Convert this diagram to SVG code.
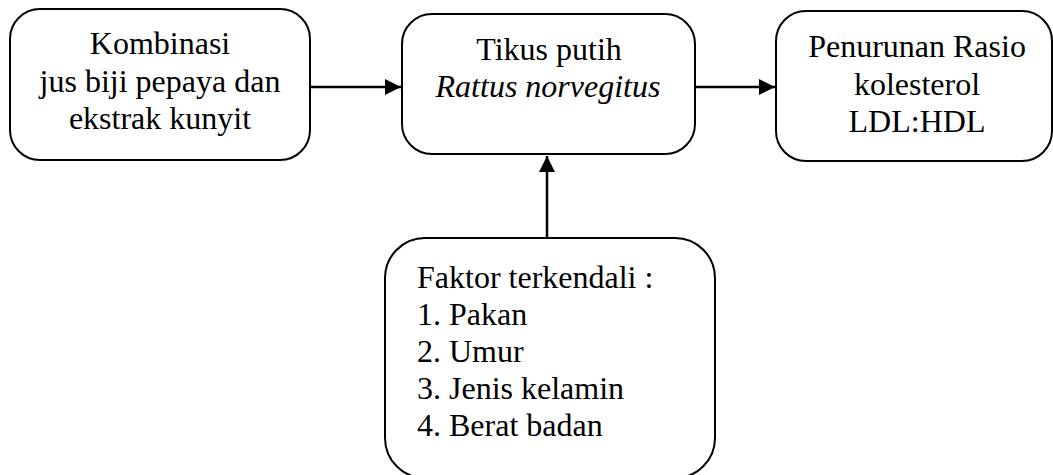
<svg xmlns="http://www.w3.org/2000/svg" width="1053" height="475" viewBox="0 0 1053 475">
<style>
.box{fill:#fff;stroke:#000;stroke-width:2}
.t{font-family:"Liberation Serif","Times New Roman",serif;font-size:32px;fill:#000}
.c{text-anchor:middle}
.conn{stroke:#000;stroke-width:2.5;fill:none}
</style>
<defs>
<marker id="ah" viewBox="0 0 10 10" refX="10" refY="5" markerWidth="6.4" markerHeight="6.4" orient="auto" markerUnits="strokeWidth">
<path d="M0,0 L10,5 L0,10 Z" fill="#000"/>
</marker>
</defs>
<rect width="1053" height="475" fill="#fff"/>
<g id="connectors">
<line class="conn" x1="310" y1="87" x2="401" y2="87" marker-end="url(#ah)"/>
<line class="conn" x1="695" y1="87" x2="775" y2="87" marker-end="url(#ah)"/>
<line class="conn" x1="547" y1="238" x2="547" y2="156" marker-end="url(#ah)"/>
</g>
<g id="node-kombinasi">
<rect class="box" x="10" y="9" width="300" height="151" rx="30" ry="30"/>
<text class="t c" x="160" y="54">Kombinasi</text>
<text class="t c" x="160" y="92">jus biji pepaya dan</text>
<text class="t c" x="160" y="129">ekstrak kunyit</text>
</g>
<g id="node-tikus">
<rect class="box" x="402" y="14" width="293" height="140" rx="30" ry="30"/>
<text class="t c" x="549" y="60">Tikus putih</text>
<text class="t c" x="548" y="97" font-style="italic">Rattus norvegitus</text>
</g>
<g id="node-penurunan">
<rect class="box" x="776" y="11" width="276" height="150" rx="30" ry="30"/>
<text class="t c" x="917" y="57">Penurunan Rasio</text>
<text class="t c" x="917" y="95">kolesterol</text>
<text class="t c" x="917" y="132">LDL:HDL</text>
</g>
<g id="node-faktor">
<rect class="box" x="385" y="238" width="330" height="240" rx="40" ry="40"/>
<text class="t" x="417" y="288">Faktor terkendali :</text>
<text class="t" x="417" y="325">1. Pakan</text>
<text class="t" x="417" y="362">2. Umur</text>
<text class="t" x="417" y="399">3. Jenis kelamin</text>
<text class="t" x="417" y="436">4. Berat badan</text>
</g>
</svg>
